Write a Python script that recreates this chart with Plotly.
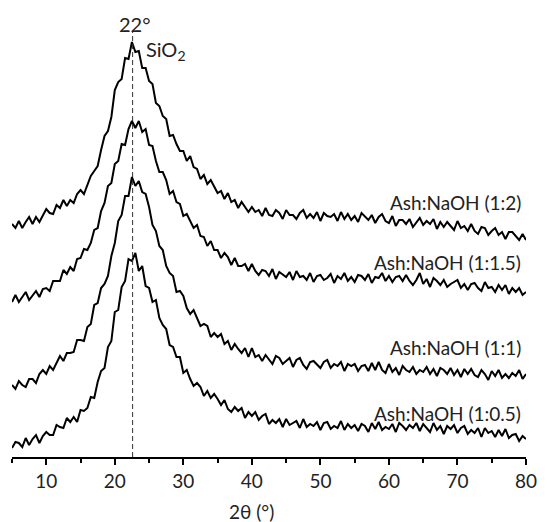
import numpy as np
import plotly.graph_objects as go

# 2-theta grid (degrees), 0.5 deg sampling from 5 to 80
two_theta = np.round(np.arange(5.0, 80.01, 0.5), 2)

# Intensities (a.u., already offset/stacked as in the figure)
i_1_2 = [
    233, 229, 236, 229, 235, 240, 233, 240, 235, 242,
    248, 244, 243, 252, 249, 257, 251, 257, 254, 263,
    267, 263, 272, 281, 286, 291, 307, 321, 326, 340,
    367, 375, 378, 399, 398, 415, 405, 406, 389, 389,
    376, 373, 354, 351, 341, 338, 321, 322, 313, 306,
    306, 296, 301, 290, 288, 278, 282, 273, 277, 270,
    264, 266, 258, 264, 255, 257, 249, 255, 250, 245,
    250, 245, 247, 241, 249, 242, 241, 247, 244, 238,
    247, 242, 242, 238, 244, 247, 239, 243, 239, 245,
    236, 244, 241, 240, 243, 236, 245, 238, 243, 237,
    241, 235, 244, 240, 237, 242, 234, 240, 243, 236,
    234, 241, 231, 237, 237, 233, 238, 230, 234, 239,
    232, 236, 233, 238, 228, 235, 230, 235, 231, 227,
    236, 229, 231, 226, 233, 226, 223, 230, 229, 222,
    226, 229, 222, 225, 218, 225, 225, 221, 217, 223,
    217,
]
i_1_1_5 = [
    155, 162, 155, 160, 165, 157, 162, 166, 160, 168,
    169, 166, 176, 176, 176, 187, 183, 190, 186, 198,
    199, 208, 207, 214, 227, 229, 246, 254, 271, 274,
    293, 296, 313, 312, 328, 336, 329, 336, 325, 328,
    312, 311, 296, 285, 285, 277, 263, 266, 255, 253,
    241, 243, 236, 229, 232, 221, 220, 211, 216, 207,
    207, 199, 204, 200, 192, 199, 191, 191, 193, 186,
    193, 186, 182, 187, 186, 181, 188, 178, 185, 182,
    180, 185, 177, 186, 180, 181, 177, 184, 175, 181,
    182, 177, 179, 183, 174, 181, 178, 184, 176, 180,
    175, 182, 181, 177, 183, 174, 180, 179, 184, 176,
    181, 175, 180, 181, 176, 182, 176, 172, 177, 184,
    173, 178, 170, 179, 176, 172, 177, 170, 173, 175,
    177, 169, 173, 167, 173, 174, 169, 166, 175, 169,
    170, 165, 172, 167, 172, 163, 169, 165, 169, 162,
    165,
]
i_1_1 = [
    72, 68, 76, 72, 70, 78, 78, 74, 83, 87,
    83, 91, 87, 94, 101, 96, 104, 104, 105, 117,
    117, 116, 130, 133, 152, 154, 169, 173, 181, 201,
    214, 236, 242, 261, 261, 280, 271, 276, 265, 263,
    250, 232, 226, 211, 207, 191, 184, 181, 165, 166,
    161, 149, 143, 147, 139, 131, 133, 131, 120, 124,
    120, 123, 113, 116, 107, 113, 108, 104, 109, 100,
    109, 100, 102, 96, 102, 97, 93, 101, 99, 93,
    96, 99, 90, 97, 99, 92, 88, 95, 96, 92,
    89, 95, 97, 89, 93, 91, 95, 86, 93, 91,
    93, 86, 91, 92, 86, 94, 87, 95, 87, 84,
    93, 85, 89, 82, 91, 87, 85, 90, 83, 87,
    85, 90, 83, 88, 81, 89, 87, 83, 89, 82,
    87, 80, 88, 83, 88, 82, 80, 87, 83, 77,
    86, 81, 87, 79, 83, 79, 84, 81, 87, 78,
    83,
]
i_1_0_5 = [
    9, 15, 14, 10, 19, 12, 18, 22, 14, 21,
    25, 22, 22, 32, 30, 29, 39, 35, 40, 35,
    47, 46, 49, 60, 59, 75, 86, 89, 110, 116,
    145, 147, 170, 176, 198, 196, 204, 186, 191, 171,
    169, 155, 157, 139, 132, 128, 112, 110, 100, 100,
    84, 87, 78, 71, 74, 70, 61, 66, 59, 63,
    58, 52, 57, 48, 45, 50, 46, 49, 39, 45,
    41, 45, 37, 41, 43, 33, 37, 34, 38, 30,
    38, 32, 34, 36, 29, 38, 30, 33, 31, 35,
    27, 34, 35, 28, 31, 29, 36, 27, 33, 29,
    32, 26, 33, 31, 25, 34, 28, 35, 27, 30,
    28, 33, 25, 34, 31, 27, 32, 29, 34, 26,
    33, 29, 25, 34, 27, 31, 23, 31, 28, 32,
    24, 29, 31, 23, 27, 24, 29, 20, 29, 24,
    26, 20, 27, 21, 28, 19, 22, 23, 16, 21,
    18,
]

series = [
    ("Ash:NaOH (1:2)", i_1_2, 255),
    ("Ash:NaOH (1:1.5)", i_1_1_5, 195),
    ("Ash:NaOH (1:1)", i_1_1, 110),
    ("Ash:NaOH (1:0.5)", i_1_0_5, 44),
]

peak_2theta = 22.6
peak_label = "22°"
peak_phase = "SiO<sub>2</sub>"
x_ticks = [10, 20, 30, 40, 50, 60, 70, 80]

FONT = "Lato, 'Open Sans', sans-serif"

fig = go.Figure()
for name, vals, _ in series:
    fig.add_trace(go.Scatter(
        x=two_theta, y=vals, mode="lines", name=name,
        line=dict(color="black", width=2), showlegend=False,
        hoverinfo="skip",
    ))

annotations = []
for name, vals, ylab in series:
    annotations.append(dict(
        x=79.5, y=ylab, xref="x", yref="y", text=name, showarrow=False,
        xanchor="right", yanchor="middle",
        font=dict(family=FONT, size=19, color="#222222"),
    ))

annotations.append(dict(
    x=22.9, y=433, xref="x", yref="y", text=peak_label, showarrow=False,
    xanchor="center", yanchor="middle",
    font=dict(family=FONT, size=20, color="#222222"),
))
annotations.append(dict(
    x=24.3, y=407, xref="x", yref="y", text=peak_phase, showarrow=False,
    xanchor="left", yanchor="middle",
    font=dict(family=FONT, size=20, color="#222222"),
))
annotations.append(dict(
    x=40.0, y=-0.123, xref="x", yref="paper", text="2θ (°)", showarrow=False,
    xanchor="center", yanchor="middle",
    font=dict(family=FONT, size=19, color="#222222"),
))

fig.add_shape(
    type="line", xref="x", yref="y",
    x0=peak_2theta, x1=peak_2theta, y0=0, y1=425,
    line=dict(color="#333333", width=1, dash="5px,3px"),
)

fig.update_layout(
    width=547, height=522,
    margin=dict(l=12, r=17, t=10, b=65),
    paper_bgcolor="white", plot_bgcolor="white",
    annotations=annotations,
    font=dict(family=FONT, color="#222222"),
)
fig.update_xaxes(
    range=[5, 80], tickvals=x_ticks, ticks="outside", ticklen=6, tickwidth=1.5,
    tickcolor="black", showline=True, linecolor="black", linewidth=1.8,
    showgrid=False, zeroline=False,
    tickfont=dict(family=FONT, size=19, color="#222222"),
    minor=dict(ticks="outside", ticklen=4, tickwidth=1.5, tickcolor="black",
               tick0=5, dtick=10, showgrid=False),
)
fig.update_yaxes(range=[0, 447], visible=False, showgrid=False, zeroline=False)

fig.write_html(
    "out.html",
    config={"displayModeBar": False},
    post_script="document.body.style.margin='0';document.body.style.overflow='hidden';",
)
